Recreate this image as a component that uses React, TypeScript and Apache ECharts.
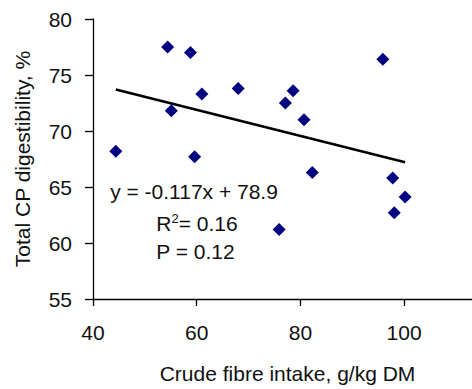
import React, { useEffect, useRef } from "react";
import * as echarts from "echarts";

const crudeFibre = [54.4, 58.8, 95.9, 61.0, 68.0, 78.6, 77.1, 55.1, 80.7, 44.4, 59.6, 82.3, 97.8, 100.2, 98.1, 75.9];
const cpDigest = [77.5, 77.0, 76.4, 73.3, 73.8, 73.6, 72.5, 71.8, 71.0, 68.2, 67.7, 66.3, 65.8, 64.1, 62.7, 61.2];
const trendX = [44.4, 100.2];
const trendY = [73.7, 67.2];
const xRange = { min: 40, max: 113.1 };
const xTickValues = [40, 60, 80, 100];
const yTicks = { min: 55, max: 80, interval: 5 };
const annotations = ["y = -0.117x + 78.9", "R{sup|2}= 0.16", "P = 0.12"];
const xTitle = "Crude fibre intake, g/kg DM";
const yTitle = "Total CP digestibility, %";

const FONT = "'Liberation Sans', Arial, sans-serif";

export default function App() {
  const ref = useRef<HTMLDivElement>(null);
  useEffect(() => {
    if (!ref.current) return;
    const chart = echarts.init(ref.current, undefined, { renderer: "svg" });
    const textBase = { fontFamily: FONT, fontSize: 21, fill: "#111" };
    chart.setOption({
      animation: false,
      backgroundColor: "#fff",
      grid: { left: 93, top: 19, bottom: 90, right: 0, containLabel: false },
      xAxis: {
        type: "value",
        min: xRange.min,
        max: xRange.max,
        name: xTitle,
        nameLocation: "middle",
        nameGap: 64,
        nameTextStyle: { fontFamily: FONT, fontSize: 21, color: "#111", padding: [0, 0, 0, 10] },
        axisLine: { lineStyle: { color: "#000", width: 1.3 } },
        axisTick: { show: true, length: 7, customValues: xTickValues, lineStyle: { color: "#000", width: 1.3 } },
        axisLabel: { fontFamily: FONT, fontSize: 21, color: "#111", margin: 23, customValues: xTickValues },
        splitLine: { show: false },
      },
      yAxis: {
        type: "value",
        min: yTicks.min,
        max: yTicks.max,
        interval: yTicks.interval,
        name: yTitle,
        nameLocation: "middle",
        nameGap: 60,
        nameTextStyle: { fontFamily: FONT, fontSize: 21, color: "#111" },
        axisLine: { show: true, lineStyle: { color: "#000", width: 1.3 } },
        axisTick: { show: true, length: 8, lineStyle: { color: "#000", width: 1.3 } },
        axisLabel: { fontFamily: FONT, fontSize: 21, color: "#111", margin: 21 },
        splitLine: { show: false },
      },
      series: [
        {
          type: "scatter",
          symbol: "diamond",
          symbolSize: 13,
          itemStyle: { color: "#000080", opacity: 1 },
          data: crudeFibre.map((x, i) => [x, cpDigest[i]]),
          z: 3,
        },
        {
          type: "line",
          data: trendX.map((x, i) => [x, trendY[i]]),
          symbol: "none",
          lineStyle: { color: "#000", width: 2.6 },
          z: 2,
        },
      ],
      graphic: [
        { type: "text", x: 194, y: 191.5, style: { ...textBase, text: annotations[0], align: "center", verticalAlign: "middle" } },
        {
          type: "text",
          x: 197,
          y: 223,
          style: {
            ...textBase,
            text: annotations[1],
            align: "center",
            verticalAlign: "middle",
            rich: { sup: { fontFamily: FONT, fontSize: 13, fill: "#111", verticalAlign: "top", padding: [0, 0, 10, 0] } },
          },
        },
        { type: "text", x: 195.5, y: 251, style: { ...textBase, text: annotations[2], align: "center", verticalAlign: "middle" } },
      ],
    });
    return () => chart.dispose();
  }, []);
  return <div ref={ref} style={{ position: "absolute", left: 0, top: 0, width: 472, height: 389 }} />;
}
